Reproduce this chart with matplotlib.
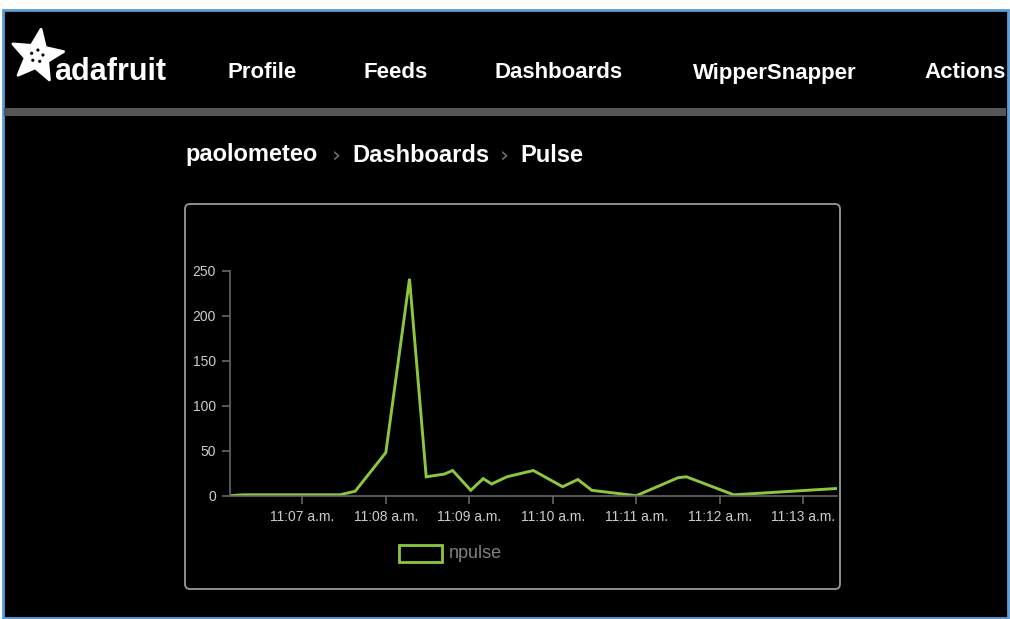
import numpy as np
import matplotlib
matplotlib.use("Agg")
import matplotlib.pyplot as plt
from matplotlib.patches import Rectangle, FancyBboxPatch, Polygon, Circle
from matplotlib.ticker import FixedLocator, FuncFormatter

# page text
nav_items = ["Profile", "Feeds", "Dashboards", "WipperSnapper", "Actions"]
crumbs = ["paolometeo", "Dashboards", "Pulse"]
series_name = "npulse"

# feed values
times = ["11:06:08", "11:06:17", "11:07:27", "11:07:38", "11:08:00", "11:08:17",
         "11:08:29", "11:08:42", "11:08:48", "11:09:01", "11:09:10", "11:09:16",
         "11:09:27", "11:09:46", "11:10:07", "11:10:18", "11:10:28", "11:11:00",
         "11:11:30", "11:11:36", "11:12:10", "11:13:24"]
npulse = [0, 1, 1, 5, 48, 241,
          21, 24, 28, 6, 19, 13,
          21, 28, 10, 18, 6, 0,
          20, 21, 1, 8]
tick_times = ["11:07", "11:08", "11:09", "11:10", "11:11", "11:12", "11:13"]
y_ticks = [0, 50, 100, 150, 200, 250]

GREEN = "#8dc63f"
W, H = 1010, 619


def to_min(s):
    parts = [int(p) for p in s.split(":")]
    sec = parts[2] if len(parts) > 2 else 0
    return parts[0] * 60 + parts[1] + sec / 60.0


t = np.array([to_min(s) for s in times])
tt = [to_min(s) for s in tick_times]

fig = plt.figure(figsize=(W / 100, H / 100), dpi=100)
fig.patch.set_facecolor("white")

# background / page decoration in pixel coords
bg = fig.add_axes([0, 0, 1, 1])
bg.set_xlim(0, W)
bg.set_ylim(H, 0)
bg.axis("off")
bg.add_patch(Rectangle((2.5, 10), W - 5, H - 11.5, facecolor="black",
                       edgecolor="#5b9bd5", lw=2))
bg.add_patch(Rectangle((4, 108), W - 8, 8, facecolor="#555555", edgecolor="none"))

# adafruit flower logo
cx, cy = 37, 56
ang = np.linspace(0, 2 * np.pi, 11)[:-1] - np.pi / 2 + 0.15
rad = np.where(np.arange(10) % 2 == 0, 27, 12)
bg.add_patch(Polygon(np.c_[cx + rad * np.cos(ang), cy + rad * np.sin(ang)],
                     closed=True, facecolor="white", edgecolor="white", lw=2,
                     joinstyle="round"))
for a in ang[::2]:
    bg.add_patch(Circle((cx + 6 * np.cos(a), cy + 6 * np.sin(a)), 1.6,
                        facecolor="black", edgecolor="none"))
bg.text(54, 72, "adafruit", color="white", fontsize=22, fontweight="bold",
        family="Liberation Sans", ha="left", va="center")

nav_x = [262, 396, 559, 775, 965]
for x, s in zip(nav_x, nav_items):
    bg.text(x, 73, s, color="white", fontsize=16, fontweight="bold",
            family="Liberation Sans", ha="center", va="center")

crumb_x = [185, 352, 520]
for x, s in zip(crumb_x, crumbs):
    bg.text(x, 155, s, color="white", fontsize=17, fontweight="bold",
            family="Liberation Sans", ha="left", va="center")
for x in [336, 504]:
    bg.text(x, 155, "›", color="#777777", fontsize=16,
            family="DejaVu Sans", ha="center", va="center")

# card
bg.add_patch(FancyBboxPatch((185, 204), 655, 385,
                            boxstyle="round,pad=0,rounding_size=5",
                            facecolor="black", edgecolor="#999999", lw=1.3))

# legend
bg.add_patch(Rectangle((399, 545), 43, 17, facecolor="black",
                       edgecolor=GREEN, lw=2))
bg.text(449, 553, series_name, color="#808080", fontsize=13,
        family="Liberation Sans", ha="left", va="center")

# chart
ax = fig.add_axes([230 / W, 1 - 495.7 / H, (836.7 - 230) / W, (495.7 - 270.7) / H])
ax.set_facecolor("none")
ax.plot(t, npulse, color=GREEN, lw=2.1, solid_joinstyle="miter")
ax.set_xlim(t[0], t[-1])
ax.set_ylim(0, 250)
ax.xaxis.set_major_locator(FixedLocator(tt))
ax.xaxis.set_major_formatter(FuncFormatter(
    lambda v, p: "%d:%02d a.m." % (int(round(v)) // 60, int(round(v)) % 60)))
ax.set_yticks(y_ticks)
for side in ["top", "right"]:
    ax.spines[side].set_visible(False)
for side in ["left", "bottom"]:
    ax.spines[side].set_color("#666666")
    ax.spines[side].set_linewidth(1.2)
ax.tick_params(colors="#666666", length=6, width=1.2, labelcolor="#cccccc",
               labelsize=10, pad=4)
for lab in ax.get_xticklabels() + ax.get_yticklabels():
    lab.set_family("Liberation Sans")

fig.savefig("out.png", dpi=100, facecolor=fig.get_facecolor())
